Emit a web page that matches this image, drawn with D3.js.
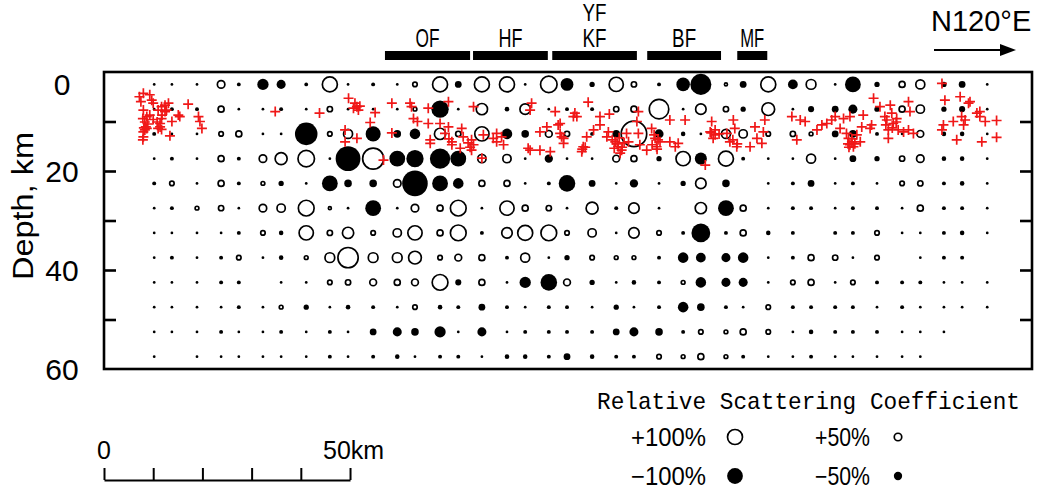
<!DOCTYPE html>
<html>
<head>
<meta charset="utf-8">
<script src="https://cdn.jsdelivr.net/npm/d3@7"></script>
<style>
  body { margin: 0; background: #fff; }
  text { fill: #000; }
</style>
</head>
<body>
<svg id="chart" width="1042" height="502"></svg>
<script>
// Grid columns: distance along the profile, km.
const colKm = [10.2, 13.8, 18.9, 23.8, 27.4, 32.3, 36.0, 41.1, 45.9, 49.6, 54.7, 59.6, 63.2,
  68.3, 72.0, 76.8, 81.9, 85.6, 90.4, 94.1, 99.2, 104.1, 107.7, 112.8, 117.7, 121.3, 126.4,
  129.9, 135.0, 140.0, 143.7, 148.6, 152.2, 157.1, 162.2, 165.9, 170.7, 174.4, 179.5];

// Grid rows: depth, km.
const rowDepth = [2.5, 7.5, 12.5, 17.5, 22.5, 27.5, 32.5, 37.5, 42.5, 47.5, 52.5, 57.5];

// Relative scattering coefficient (%) per row, one value per column.
const scatter = [
  [-13,-13,-13,50,-20,-70,-55,-20,100,-13,-21,-13,30,100,-40,100,100,-13,110,-80,-30,95,35,-21,-85,-135,20,-40,100,-60,65,-13,-100,-30,40,60,-30,-40,-13],
  [-13,-21,-21,40,-13,-13,-21,-13,35,-13,-13,-13,25,-110,-13,75,-25,70,-13,-21,-21,35,40,130,-13,70,35,-30,85,-13,-35,-40,-55,-30,40,55,-30,-35,-13],
  [-21,-13,-13,30,40,-13,-13,-145,30,60,-95,-45,-65,75,35,95,-65,-45,45,35,-21,-45,170,-55,-25,-13,60,55,30,35,25,-40,-45,-21,-13,45,-25,-25,-13],
  [-13,-21,-13,40,-21,50,80,110,-13,-160,140,-100,-110,-130,-100,55,55,-13,-50,-13,-13,45,40,-30,95,-75,100,-21,-13,-13,60,-13,-40,-30,35,50,-25,-25,-13],
  [-21,30,-13,40,-21,25,-30,-13,-100,-45,-45,50,-165,-100,-65,40,40,-13,-21,-105,-40,-13,-50,-13,-30,70,-45,0,-13,-21,-40,-13,-21,-13,30,35,-21,-25,-13],
  [-13,-21,25,35,-13,50,55,105,20,-13,-100,-13,50,40,105,-13,95,40,35,-13,80,-21,70,-13,0,75,-100,40,-13,-21,-21,-13,-21,-21,-13,40,-21,-21,-13],
  [-13,-13,-13,-13,-21,30,-25,95,35,75,30,55,95,40,105,-21,70,100,105,30,55,-13,70,30,-21,-120,-21,40,-25,-21,0,-21,-21,30,-13,-13,-21,-25,-13],
  [-13,-21,-13,-21,30,-13,-25,25,65,135,65,65,85,30,45,40,-21,60,-13,-30,30,25,25,-21,-65,-60,-55,-65,-13,-21,40,35,-13,30,0,-13,-21,-21,0],
  [-13,-13,-13,-21,-21,0,-13,-13,30,35,45,40,45,105,-35,40,-13,-70,-105,45,-30,-13,-25,-21,25,-65,-55,-55,-13,30,40,-13,30,-21,-21,-21,-13,-13,-13],
  [-13,-13,-13,-13,-21,-13,25,-30,-13,-25,-21,-13,30,-25,-21,-40,-21,-13,-21,-21,-13,-30,-13,-21,-65,-45,-21,-13,30,-21,-21,-21,-21,-13,-21,-13,-13,-13,-13],
  [-13,-13,-13,-21,-13,-13,-21,-13,-21,-13,-40,-55,-45,-70,-13,-55,-13,-21,-21,-21,-21,-40,-55,-45,-21,30,25,40,30,-13,-25,-21,-21,-21,-13,-13,-13,0,0],
  [-13,0,-13,-13,-13,-13,-13,-13,-21,-13,-21,-25,-13,-21,-21,-13,-25,-25,-21,-40,-25,-21,-21,30,25,40,25,-21,-13,-13,-21,-13,-13,-13,-13,-13,0,0,0]
];

// Earthquake hypocenters: [distance km, depth km].
const hypocenters = [
  [7.2,5.0],[8.0,4.3],[9.3,4.6],[9.7,5.7],[10.0,6.3],[7.5,6.0],[8.0,7.7],[7.9,9.4],[8.7,9.0],[9.3,8.7],
  [10.0,9.6],[11.0,7.7],[11.7,7.0],[12.4,6.7],[13.1,6.3],[12.4,8.0],[12.7,7.7],[11.7,9.4],[11.4,10.4],[11.0,11.4],
  [11.7,11.6],[8.5,11.1],[8.3,11.7],[8.0,12.1],[8.7,11.4],[7.9,13.7],[8.0,13.1],[13.4,12.9],[15.1,8.7],[15.4,9.0],
  [17.1,6.5],[19.2,9.0],[19.5,10.0],[19.9,11.4],[13.8,10.0],[34.8,8.0],[43.8,8.3],[8.3,10.1],[8.9,10.5],[8.1,11.3],
  [11.8,8.7],[10.8,10.1],[11.4,11.1],
  [49.7,5.3],[51.0,6.3],[51.4,7.0],[50.7,7.3],[52.0,6.9],[51.7,7.7],[55.1,8.2],[54.1,10.2],[49.0,11.7],[49.0,14.1],
  [51.4,13.4],[58.5,6.3],[58.5,12.3],[56.8,17.8],[62.2,6.3],[62.5,7.0],[62.9,9.4],[63.7,10.0],[65.9,7.3],[65.9,10.4],
  [68.3,10.4],[70.0,6.0],[70.0,11.1],[69.3,12.4],[66.3,13.7],[66.3,14.4],[70.7,14.1],[70.7,14.7],[72.7,11.4],[73.0,13.1],
  [72.4,15.4],[74.7,13.7],[75.1,14.7],[74.7,15.8],[75.1,7.0],[77.1,12.7],[76.8,17.4],[79.1,13.4],[79.8,14.1],[80.8,13.1],
  [81.2,14.7],[86.2,15.4],[86.6,15.8],[88.6,15.8],[90.7,16.1],[86.9,6.3],[86.6,7.7],[88.6,12.1],[90.0,11.1],[92.3,10.7],
  [91.7,8.0],[92.7,12.4],[93.4,13.4],[79.8,12.4],[74.0,14.3],[74.4,15.2],[70.1,13.5],
  [98.4,6.1],[95.7,8.3],[96.1,9.0],[95.4,9.0],[100.8,9.0],[102.7,8.5],[92.7,10.4],[93.0,13.1],[93.4,14.4],[97.4,15.1],
  [97.1,16.1],[98.1,13.1],[99.5,11.7],[100.8,10.7],[102.5,12.1],[102.2,13.1],[103.9,14.1],[104.5,15.1],[105.2,15.8],[104.9,16.4],
  [106.2,12.4],[106.6,14.1],[108.6,12.4],[108.6,8.0],[108.3,10.0],[108.9,14.7],[110.3,15.8],[111.3,11.4],[112.0,13.4],[112.3,15.1],
  [113.0,14.1],[115.0,9.7],[115.0,14.1],[116.1,15.1],[116.7,14.4],[118.1,9.7],[123.2,12.1],[123.5,10.0],[124.2,12.7],[123.8,13.4],
  [126.6,12.4],[127.2,14.1],[127.9,9.7],[128.2,11.4],[128.6,15.1],[131.3,15.1],[132.3,11.1],[132.7,13.4],[133.7,14.4],[134.0,12.1],
  [134.3,9.7],[122.2,18.8],[139.8,9.0],[140.8,13.7],[103.3,13.7],[104.3,14.5],[105.3,15.2],[104.7,13.3],[105.7,14.3],[103.7,15.4],
  [111.8,12.7],[112.6,13.7],[111.4,14.7],[112.4,15.6],[123.4,12.3],[124.2,11.7],[125.0,12.5],[127.8,13.7],[128.7,14.5],[97.2,15.6],
  [97.8,15.2],
  [141.5,9.7],[142.5,10.0],[144.9,11.7],[145.9,10.7],[146.9,10.4],[147.9,9.7],[148.6,9.0],[149.6,11.4],[150.3,9.4],[151.6,9.0],
  [150.9,12.4],[151.3,13.4],[152.0,14.1],[151.6,14.7],[152.3,15.1],[153.0,12.7],[153.7,14.1],[154.0,11.1],[154.3,8.7],[156.0,10.7],
  [156.4,5.3],[155.7,11.4],[157.7,7.0],[158.7,9.0],[159.1,9.7],[159.8,6.7],[160.1,8.3],[160.4,10.4],[161.1,9.4],[159.4,13.4],
  [159.4,11.7],[161.4,11.7],[162.5,12.1],[163.5,6.0],[163.5,11.7],[163.8,8.0],[164.5,12.4],[170.3,2.3],[170.9,5.7],[170.6,10.7],
  [170.3,11.7],[172.6,10.0],[174.0,5.0],[174.3,9.0],[174.7,10.7],[175.7,6.3],[175.0,9.7],[176.0,6.0],[173.3,13.7],[177.4,8.3],
  [178.0,8.0],[178.0,9.0],[179.1,10.0],[178.4,14.1],[181.4,9.8],[181.4,13.2],[151.2,14.5],[152.0,13.5],[152.6,14.5],[151.4,15.2],
  [158.9,10.7],[160.2,11.3],[161.0,10.1]
];

// Faults along the profile (km).
const faultNames = ['OF', 'HF', 'KF', 'BF', 'MF'];
const faultStart = [57.1, 75.0, 91.1, 110.4, 128.7];
const faultEnd = [74.4, 90.2, 108.3, 125.4, 134.8];

const depthLabels = [0, 20, 40, 60];
const legendValues = [100, 50, -100, -50];
const legendLabels = ['+100%', '+50%', '\u2212100%', '\u221250%'];

const svg = d3.select('#chart');
const sans = "'Liberation Sans', Arial, sans-serif";
const mono = "'Liberation Mono', 'DejaVu Sans Mono', monospace";

const x = d3.scaleLinear().domain([0, 188.6]).range([104, 1032]);
const y = d3.scaleLinear().domain([0, 60]).range([72, 369]);
const r = d3.scaleLinear().domain([0, 100]).range([0, 7.5]);

// Scattering circles.
const cells = [];
scatter.forEach((row, i) => row.forEach((v, j) => {
  if (v !== 0) cells.push({ km: colKm[j], depth: rowDepth[i], v: v });
}));

svg.append('g')
  .selectAll('circle')
  .data(cells)
  .join('circle')
  .attr('cx', d => x(d.km))
  .attr('cy', d => y(d.depth))
  .attr('r', d => d.v < 0 ? r(-d.v) + 0.4 : r(d.v))
  .attr('fill', d => d.v < 0 ? '#000' : '#fff')
  .attr('stroke', d => d.v < 0 ? 'none' : '#000')
  .attr('stroke-width', 1.7);

// Hypocenters.
svg.append('g')
  .selectAll('path')
  .data(hypocenters)
  .join('path')
  .attr('d', d => {
    const cx = x(d[0]), cy = y(d[1]);
    return `M${cx - 5},${cy}h10M${cx},${cy - 5}v10`;
  })
  .attr('stroke', '#f01818')
  .attr('stroke-width', 1.7)
  .attr('fill', 'none');

// Frame.
svg.append('rect')
  .attr('x', x(0))
  .attr('y', y(0))
  .attr('width', x(188.6) - x(0))
  .attr('height', y(60) - y(0))
  .attr('fill', 'none')
  .attr('stroke', '#000')
  .attr('stroke-width', 2.6);

// Inner depth ticks on both sides.
const tickVals = [10, 20, 30, 40, 50];
const leftAxis = svg.append('g')
  .attr('transform', `translate(${x(0)},0)`)
  .call(d3.axisLeft(y).tickValues(tickVals).tickSize(-12).tickFormat(''));
const rightAxis = svg.append('g')
  .attr('transform', `translate(${x(188.6)},0)`)
  .call(d3.axisRight(y).tickValues(tickVals).tickSize(-12).tickFormat(''));
[leftAxis, rightAxis].forEach(g => {
  g.select('.domain').remove();
  g.selectAll('line').attr('stroke-width', 2.6);
});

// Depth labels.
svg.append('g')
  .selectAll('text')
  .data(depthLabels)
  .join('text')
  .attr('x', 62)
  .attr('y', d => (d === 0 ? y(d) + 12 : y(d)) + 11)
  .attr('text-anchor', 'middle')
  .attr('font-family', sans)
  .attr('font-size', 30)
  .text(d => d);

svg.append('text')
  .attr('transform', `translate(33,206) rotate(-90)`)
  .attr('text-anchor', 'middle')
  .attr('font-family', sans)
  .attr('font-size', 30)
  .attr('textLength', 148)
  .attr('lengthAdjust', 'spacingAndGlyphs')
  .text('Depth, km');

// Fault bars and names.
const faults = svg.append('g');
faults.selectAll('rect')
  .data(faultNames)
  .join('rect')
  .attr('x', (d, i) => x(faultStart[i]))
  .attr('y', 51)
  .attr('width', (d, i) => x(faultEnd[i]) - x(faultStart[i]))
  .attr('height', 9)
  .attr('fill', '#000');
faults.selectAll('text')
  .data(faultNames)
  .join('text')
  .attr('x', (d, i) => (x(faultStart[i]) + x(faultEnd[i])) / 2)
  .attr('y', 47)
  .attr('text-anchor', 'middle')
  .attr('font-family', sans)
  .attr('font-size', 25)
  .attr('textLength', 24)
  .attr('lengthAdjust', 'spacingAndGlyphs')
  .text(d => d);
faults.append('text')
  .attr('x', (x(faultStart[2]) + x(faultEnd[2])) / 2)
  .attr('y', 21)
  .attr('text-anchor', 'middle')
  .attr('font-family', sans)
  .attr('font-size', 24)
  .attr('textLength', 24)
  .attr('lengthAdjust', 'spacingAndGlyphs')
  .text('YF');

// Profile direction.
svg.append('text')
  .attr('x', 931)
  .attr('y', 31)
  .attr('font-family', sans)
  .attr('font-size', 29)
  .text('N120\u00B0E');
svg.append('line')
  .attr('x1', 934).attr('x2', 1004)
  .attr('y1', 50).attr('y2', 50)
  .attr('stroke', '#000')
  .attr('stroke-width', 2);
svg.append('path')
  .attr('d', 'M1000,44L1016,50L1000,56Z')
  .attr('fill', '#000');

// Distance scale bar.
const xBar = d3.scaleLinear().domain([0, 50]).range([x(0), x(50)]);
const bar = svg.append('g')
  .attr('transform', 'translate(0,480)')
  .call(d3.axisTop(xBar).tickValues([0, 10, 20, 30, 40, 50]).tickSize(12).tickSizeOuter(0).tickFormat(''));
bar.select('.domain').attr('stroke-width', 2);
bar.selectAll('line').attr('stroke-width', 2);
svg.append('text')
  .attr('x', xBar(0))
  .attr('y', 459)
  .attr('text-anchor', 'middle')
  .attr('font-family', sans)
  .attr('font-size', 25)
  .text('0');
svg.append('text')
  .attr('x', 323)
  .attr('y', 459)
  .attr('font-family', sans)
  .attr('font-size', 25)
  .text('50km');

// Legend.
svg.append('text')
  .attr('x', 597)
  .attr('y', 409)
  .attr('font-family', mono)
  .attr('font-size', 24)
  .attr('textLength', 423)
  .attr('lengthAdjust', 'spacingAndGlyphs')
  .text('Relative Scattering Coefficient');

const legX = [631, 815, 631, 815];
const legW = [75, 55, 75, 55];
const legCx = [735, 898, 735, 898];
const legCy = [437, 437, 476, 476];
const legend = svg.append('g');
legend.selectAll('text')
  .data(legendLabels)
  .join('text')
  .attr('x', (d, i) => legX[i])
  .attr('y', (d, i) => legCy[i] + 9)
  .attr('font-family', sans)
  .attr('font-size', 25)
  .attr('textLength', (d, i) => legW[i])
  .attr('lengthAdjust', 'spacingAndGlyphs')
  .text(d => d);
legend.selectAll('circle')
  .data(legendValues)
  .join('circle')
  .attr('cx', (d, i) => legCx[i])
  .attr('cy', (d, i) => legCy[i])
  .attr('r', d => d < 0 ? r(-d) + 0.4 : r(d))
  .attr('fill', d => d < 0 ? '#000' : '#fff')
  .attr('stroke', d => d < 0 ? 'none' : '#000')
  .attr('stroke-width', 1.7);
</script>
</body>
</html>
